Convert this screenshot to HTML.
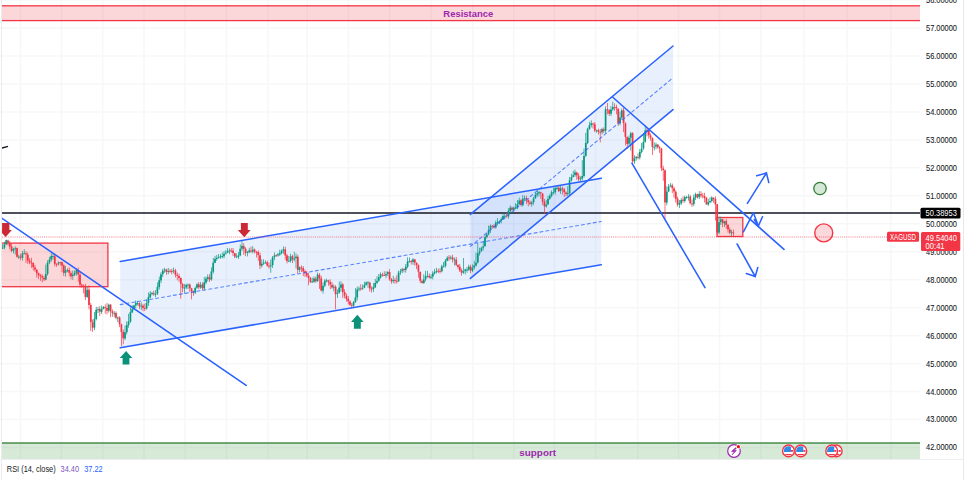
<!DOCTYPE html>
<html><head><meta charset="utf-8"><style>
html,body{margin:0;padding:0;background:#fff;width:970px;height:480px;overflow:hidden}
svg{display:block}
text{font-family:"Liberation Sans",sans-serif}
</style></head><body>
<svg width="970" height="480" viewBox="0 0 970 480">
<rect width="970" height="480" fill="#fff"/>
<g stroke="#f7f7f8" stroke-width="1.5">
<line x1="20.5" y1="0" x2="20.5" y2="459" />
<line x1="61.4" y1="0" x2="61.4" y2="459" />
<line x1="102.7" y1="0" x2="102.7" y2="459" />
<line x1="144" y1="0" x2="144" y2="459" />
<line x1="185.1" y1="0" x2="185.1" y2="459" />
<line x1="226.5" y1="0" x2="226.5" y2="459" />
<line x1="268" y1="0" x2="268" y2="459" />
<line x1="307.3" y1="0" x2="307.3" y2="459" />
<line x1="348.4" y1="0" x2="348.4" y2="459" />
<line x1="389.5" y1="0" x2="389.5" y2="459" />
<line x1="431.3" y1="0" x2="431.3" y2="459" />
<line x1="472.7" y1="0" x2="472.7" y2="459" />
<line x1="513.7" y1="0" x2="513.7" y2="459" />
<line x1="554.5" y1="0" x2="554.5" y2="459" />
<line x1="595.6" y1="0" x2="595.6" y2="459" />
<line x1="637.7" y1="0" x2="637.7" y2="459" />
<line x1="678.5" y1="0" x2="678.5" y2="459" />
<line x1="719.5" y1="0" x2="719.5" y2="459" />
<line x1="760.7" y1="0" x2="760.7" y2="459" />
<line x1="803.9" y1="0" x2="803.9" y2="459" />
<line x1="847" y1="0" x2="847" y2="459" />
<line x1="890.8" y1="0" x2="890.8" y2="459" />
<line x1="0" y1="0.03" x2="920" y2="0.03" />
<line x1="0" y1="28.00" x2="920" y2="28.00" />
<line x1="0" y1="55.97" x2="920" y2="55.97" />
<line x1="0" y1="83.94" x2="920" y2="83.94" />
<line x1="0" y1="111.91" x2="920" y2="111.91" />
<line x1="0" y1="139.88" x2="920" y2="139.88" />
<line x1="0" y1="167.85" x2="920" y2="167.85" />
<line x1="0" y1="195.82" x2="920" y2="195.82" />
<line x1="0" y1="223.79" x2="920" y2="223.79" />
<line x1="0" y1="251.76" x2="920" y2="251.76" />
<line x1="0" y1="279.73" x2="920" y2="279.73" />
<line x1="0" y1="307.70" x2="920" y2="307.70" />
<line x1="0" y1="335.67" x2="920" y2="335.67" />
<line x1="0" y1="363.64" x2="920" y2="363.64" />
<line x1="0" y1="391.61" x2="920" y2="391.61" />
<line x1="0" y1="419.58" x2="920" y2="419.58" />
<line x1="0" y1="447.55" x2="920" y2="447.55" />
</g>
<line x1="1.5" y1="0" x2="1.5" y2="480" stroke="#ebebeb" stroke-width="1"/>
<line x1="963.5" y1="0" x2="963.5" y2="480" stroke="#e6e8ec" stroke-width="1"/>
<line x1="0" y1="459.5" x2="963" y2="459.5" stroke="#eceef1" stroke-width="1"/>
<defs><clipPath id="cp"><rect x="2" y="0" width="918" height="459"/></clipPath></defs>
<g clip-path="url(#cp)">
<!-- resistance -->
<rect x="-10" y="5.8" width="940" height="14.8" fill="#f23645" fill-opacity="0.2" stroke="#f23645" stroke-width="1.3"/>
<!-- support -->
<rect x="-10" y="443" width="940" height="30" fill="#38963c" fill-opacity="0.2" stroke="#2e7d32" stroke-width="1.3"/>
<!-- big channel fill -->
<polygon points="120.2,261.4 601.3,178.2 601.3,264.7 120.2,347.8" fill="#2369eb" fill-opacity="0.1"/>
<polygon points="470.4,214.4 673,46 673,109.6 470.4,278.4" fill="#2369eb" fill-opacity="0.1"/>
<!-- left red box -->
<rect x="-10" y="243.1" width="117.9" height="43.6" fill="#f23645" fill-opacity="0.2" stroke="#f23645" stroke-width="1.3"/>
<!-- right red box -->
<rect x="717" y="217.5" width="25.8" height="19" fill="#f23645" fill-opacity="0.2" stroke="#f23645" stroke-width="1.3"/>
<!-- black line -->
<line x1="2" y1="212.9" x2="920" y2="212.9" stroke="#131722" stroke-width="1.5"/>
<!-- candles -->
<g>
<rect x="1.73" y="247.71" width="1.75" height="0.90" fill="#089981"/>
<rect x="2.25" y="244.18" width="0.7" height="4.91" fill="#089981"/>
<rect x="3.53" y="244.39" width="1.75" height="3.25" fill="#089981"/>
<rect x="4.05" y="241.72" width="0.7" height="7.64" fill="#089981"/>
<rect x="5.33" y="240.25" width="1.75" height="4.10" fill="#089981"/>
<rect x="5.85" y="239.66" width="0.7" height="5.32" fill="#089981"/>
<rect x="7.12" y="240.44" width="1.75" height="2.24" fill="#f23645"/>
<rect x="7.65" y="239.72" width="0.7" height="5.84" fill="#f23645"/>
<rect x="8.93" y="242.95" width="1.75" height="3.69" fill="#f23645"/>
<rect x="9.45" y="241.05" width="0.7" height="8.22" fill="#f23645"/>
<rect x="10.73" y="246.37" width="1.75" height="4.57" fill="#f23645"/>
<rect x="11.25" y="243.74" width="0.7" height="8.42" fill="#f23645"/>
<rect x="12.53" y="248.96" width="1.75" height="1.75" fill="#089981"/>
<rect x="13.05" y="247.76" width="0.7" height="5.76" fill="#089981"/>
<rect x="14.33" y="248.33" width="1.75" height="0.90" fill="#089981"/>
<rect x="14.85" y="246.27" width="0.7" height="8.29" fill="#089981"/>
<rect x="16.13" y="248.07" width="1.75" height="8.65" fill="#f23645"/>
<rect x="16.65" y="247.51" width="0.7" height="10.14" fill="#f23645"/>
<rect x="17.93" y="256.63" width="1.75" height="0.90" fill="#089981"/>
<rect x="18.45" y="254.78" width="0.7" height="4.17" fill="#089981"/>
<rect x="19.73" y="256.51" width="1.75" height="1.34" fill="#f23645"/>
<rect x="20.25" y="253.70" width="0.7" height="6.52" fill="#f23645"/>
<rect x="21.53" y="253.51" width="1.75" height="4.39" fill="#089981"/>
<rect x="22.05" y="251.06" width="0.7" height="9.51" fill="#089981"/>
<rect x="23.33" y="253.24" width="1.75" height="0.90" fill="#089981"/>
<rect x="23.85" y="249.23" width="0.7" height="4.86" fill="#089981"/>
<rect x="25.13" y="253.39" width="1.75" height="1.20" fill="#f23645"/>
<rect x="25.65" y="251.20" width="0.7" height="11.75" fill="#f23645"/>
<rect x="26.93" y="254.70" width="1.75" height="5.83" fill="#f23645"/>
<rect x="27.45" y="252.31" width="0.7" height="11.58" fill="#f23645"/>
<rect x="28.73" y="260.41" width="1.75" height="1.95" fill="#f23645"/>
<rect x="29.25" y="258.21" width="0.7" height="6.10" fill="#f23645"/>
<rect x="30.53" y="262.34" width="1.75" height="0.90" fill="#f23645"/>
<rect x="31.05" y="257.82" width="0.7" height="10.12" fill="#f23645"/>
<rect x="32.33" y="262.95" width="1.75" height="4.17" fill="#f23645"/>
<rect x="32.85" y="262.40" width="0.7" height="7.99" fill="#f23645"/>
<rect x="34.13" y="267.42" width="1.75" height="2.16" fill="#f23645"/>
<rect x="34.65" y="264.89" width="0.7" height="6.99" fill="#f23645"/>
<rect x="35.93" y="269.69" width="1.75" height="3.64" fill="#f23645"/>
<rect x="36.45" y="269.23" width="0.7" height="8.45" fill="#f23645"/>
<rect x="37.73" y="273.10" width="1.75" height="2.28" fill="#f23645"/>
<rect x="38.25" y="272.55" width="0.7" height="6.65" fill="#f23645"/>
<rect x="39.52" y="275.23" width="1.75" height="0.95" fill="#f23645"/>
<rect x="40.05" y="273.81" width="0.7" height="7.05" fill="#f23645"/>
<rect x="41.32" y="276.15" width="1.75" height="1.52" fill="#f23645"/>
<rect x="41.85" y="274.32" width="0.7" height="8.13" fill="#f23645"/>
<rect x="43.12" y="277.89" width="1.75" height="1.44" fill="#f23645"/>
<rect x="43.65" y="275.89" width="0.7" height="5.20" fill="#f23645"/>
<rect x="44.92" y="274.01" width="1.75" height="5.55" fill="#089981"/>
<rect x="45.45" y="264.65" width="0.7" height="15.70" fill="#089981"/>
<rect x="46.72" y="262.78" width="1.75" height="11.07" fill="#089981"/>
<rect x="47.25" y="260.34" width="0.7" height="15.17" fill="#089981"/>
<rect x="48.52" y="259.60" width="1.75" height="3.04" fill="#089981"/>
<rect x="49.05" y="256.87" width="0.7" height="7.26" fill="#089981"/>
<rect x="50.32" y="256.04" width="1.75" height="3.60" fill="#089981"/>
<rect x="50.85" y="253.16" width="0.7" height="8.67" fill="#089981"/>
<rect x="52.12" y="256.07" width="1.75" height="0.90" fill="#089981"/>
<rect x="52.65" y="253.84" width="0.7" height="5.86" fill="#089981"/>
<rect x="53.92" y="256.24" width="1.75" height="7.75" fill="#f23645"/>
<rect x="54.45" y="253.57" width="0.7" height="12.90" fill="#f23645"/>
<rect x="55.72" y="263.93" width="1.75" height="0.90" fill="#f23645"/>
<rect x="56.25" y="263.18" width="0.7" height="3.62" fill="#f23645"/>
<rect x="57.52" y="262.45" width="1.75" height="1.25" fill="#089981"/>
<rect x="58.05" y="261.51" width="0.7" height="4.07" fill="#089981"/>
<rect x="59.32" y="262.18" width="1.75" height="0.90" fill="#f23645"/>
<rect x="59.85" y="261.78" width="0.7" height="3.79" fill="#f23645"/>
<rect x="61.12" y="262.12" width="1.75" height="3.46" fill="#f23645"/>
<rect x="61.65" y="261.65" width="0.7" height="10.44" fill="#f23645"/>
<rect x="62.92" y="265.36" width="1.75" height="7.62" fill="#f23645"/>
<rect x="63.45" y="264.31" width="0.7" height="11.75" fill="#f23645"/>
<rect x="64.72" y="270.26" width="1.75" height="2.50" fill="#089981"/>
<rect x="65.25" y="265.89" width="0.7" height="10.83" fill="#089981"/>
<rect x="66.52" y="270.12" width="1.75" height="0.90" fill="#089981"/>
<rect x="67.05" y="268.25" width="0.7" height="3.99" fill="#089981"/>
<rect x="68.32" y="269.98" width="1.75" height="2.90" fill="#f23645"/>
<rect x="68.85" y="267.42" width="0.7" height="9.02" fill="#f23645"/>
<rect x="70.12" y="273.14" width="1.75" height="3.21" fill="#f23645"/>
<rect x="70.65" y="271.37" width="0.7" height="7.91" fill="#f23645"/>
<rect x="71.92" y="274.76" width="1.75" height="1.30" fill="#089981"/>
<rect x="72.45" y="270.60" width="0.7" height="9.22" fill="#089981"/>
<rect x="73.72" y="272.99" width="1.75" height="1.89" fill="#089981"/>
<rect x="74.25" y="270.30" width="0.7" height="5.94" fill="#089981"/>
<rect x="75.52" y="270.23" width="1.75" height="2.92" fill="#089981"/>
<rect x="76.05" y="268.45" width="0.7" height="7.13" fill="#089981"/>
<rect x="77.32" y="270.07" width="1.75" height="4.29" fill="#f23645"/>
<rect x="77.85" y="267.56" width="0.7" height="14.24" fill="#f23645"/>
<rect x="79.12" y="274.54" width="1.75" height="10.16" fill="#f23645"/>
<rect x="79.65" y="272.01" width="0.7" height="15.40" fill="#f23645"/>
<rect x="80.92" y="284.71" width="1.75" height="1.01" fill="#f23645"/>
<rect x="81.45" y="283.39" width="0.7" height="4.55" fill="#f23645"/>
<rect x="82.72" y="285.59" width="1.75" height="1.21" fill="#f23645"/>
<rect x="83.25" y="284.52" width="0.7" height="8.81" fill="#f23645"/>
<rect x="84.52" y="286.78" width="1.75" height="10.20" fill="#f23645"/>
<rect x="85.05" y="283.94" width="0.7" height="16.00" fill="#f23645"/>
<rect x="86.32" y="289.88" width="1.75" height="7.02" fill="#089981"/>
<rect x="86.85" y="286.61" width="0.7" height="11.28" fill="#089981"/>
<rect x="88.12" y="289.70" width="1.75" height="15.33" fill="#f23645"/>
<rect x="88.65" y="285.28" width="0.7" height="24.03" fill="#f23645"/>
<rect x="89.92" y="305.02" width="1.75" height="17.07" fill="#f23645"/>
<rect x="90.45" y="302.92" width="0.7" height="28.03" fill="#f23645"/>
<rect x="91.72" y="322.19" width="1.75" height="5.49" fill="#f23645"/>
<rect x="92.25" y="319.42" width="0.7" height="12.38" fill="#f23645"/>
<rect x="93.52" y="318.80" width="1.75" height="8.86" fill="#089981"/>
<rect x="94.05" y="312.01" width="0.7" height="18.10" fill="#089981"/>
<rect x="95.32" y="309.75" width="1.75" height="9.24" fill="#089981"/>
<rect x="95.85" y="306.78" width="0.7" height="13.63" fill="#089981"/>
<rect x="97.12" y="309.19" width="1.75" height="0.90" fill="#089981"/>
<rect x="97.65" y="306.91" width="0.7" height="6.21" fill="#089981"/>
<rect x="98.92" y="308.98" width="1.75" height="2.62" fill="#f23645"/>
<rect x="99.45" y="306.23" width="0.7" height="9.77" fill="#f23645"/>
<rect x="100.72" y="308.92" width="1.75" height="2.88" fill="#089981"/>
<rect x="101.25" y="305.59" width="0.7" height="8.32" fill="#089981"/>
<rect x="102.52" y="306.95" width="1.75" height="2.00" fill="#089981"/>
<rect x="103.05" y="306.07" width="0.7" height="3.32" fill="#089981"/>
<rect x="104.32" y="307.04" width="1.75" height="0.90" fill="#f23645"/>
<rect x="104.85" y="304.43" width="0.7" height="9.29" fill="#f23645"/>
<rect x="106.12" y="307.93" width="1.75" height="2.87" fill="#f23645"/>
<rect x="106.65" y="302.87" width="0.7" height="11.58" fill="#f23645"/>
<rect x="107.92" y="304.75" width="1.75" height="5.93" fill="#089981"/>
<rect x="108.45" y="303.73" width="0.7" height="8.88" fill="#089981"/>
<rect x="109.72" y="304.70" width="1.75" height="6.67" fill="#f23645"/>
<rect x="110.25" y="303.96" width="0.7" height="13.10" fill="#f23645"/>
<rect x="111.52" y="311.34" width="1.75" height="1.76" fill="#f23645"/>
<rect x="112.05" y="309.43" width="0.7" height="7.36" fill="#f23645"/>
<rect x="113.32" y="313.24" width="1.75" height="0.90" fill="#089981"/>
<rect x="113.85" y="311.10" width="0.7" height="6.27" fill="#089981"/>
<rect x="115.12" y="312.95" width="1.75" height="4.79" fill="#f23645"/>
<rect x="115.65" y="311.41" width="0.7" height="7.91" fill="#f23645"/>
<rect x="116.92" y="317.47" width="1.75" height="0.90" fill="#089981"/>
<rect x="117.45" y="316.62" width="0.7" height="5.64" fill="#089981"/>
<rect x="118.72" y="317.51" width="1.75" height="6.61" fill="#f23645"/>
<rect x="119.25" y="316.26" width="0.7" height="10.79" fill="#f23645"/>
<rect x="120.52" y="324.28" width="1.75" height="7.59" fill="#f23645"/>
<rect x="121.05" y="323.61" width="0.7" height="22.45" fill="#f23645"/>
<rect x="122.32" y="331.74" width="1.75" height="6.54" fill="#f23645"/>
<rect x="122.85" y="329.34" width="0.7" height="15.01" fill="#f23645"/>
<rect x="124.12" y="332.17" width="1.75" height="6.27" fill="#089981"/>
<rect x="124.65" y="325.56" width="0.7" height="14.43" fill="#089981"/>
<rect x="125.92" y="324.90" width="1.75" height="7.27" fill="#089981"/>
<rect x="126.45" y="321.32" width="0.7" height="13.06" fill="#089981"/>
<rect x="127.72" y="321.46" width="1.75" height="3.46" fill="#089981"/>
<rect x="128.25" y="313.79" width="0.7" height="13.98" fill="#089981"/>
<rect x="129.52" y="312.10" width="1.75" height="9.58" fill="#089981"/>
<rect x="130.05" y="307.42" width="0.7" height="15.34" fill="#089981"/>
<rect x="131.32" y="309.25" width="1.75" height="3.12" fill="#089981"/>
<rect x="131.85" y="305.25" width="0.7" height="7.87" fill="#089981"/>
<rect x="133.12" y="305.40" width="1.75" height="3.82" fill="#089981"/>
<rect x="133.65" y="304.81" width="0.7" height="5.44" fill="#089981"/>
<rect x="134.92" y="302.86" width="1.75" height="2.64" fill="#089981"/>
<rect x="135.45" y="300.42" width="0.7" height="7.81" fill="#089981"/>
<rect x="136.72" y="302.94" width="1.75" height="0.90" fill="#089981"/>
<rect x="137.25" y="300.83" width="0.7" height="4.61" fill="#089981"/>
<rect x="138.52" y="303.22" width="1.75" height="3.02" fill="#f23645"/>
<rect x="139.05" y="302.25" width="0.7" height="6.87" fill="#f23645"/>
<rect x="140.32" y="305.68" width="1.75" height="0.90" fill="#089981"/>
<rect x="140.85" y="302.34" width="0.7" height="7.75" fill="#089981"/>
<rect x="142.12" y="305.64" width="1.75" height="2.31" fill="#f23645"/>
<rect x="142.65" y="303.90" width="0.7" height="7.38" fill="#f23645"/>
<rect x="143.92" y="307.84" width="1.75" height="0.90" fill="#f23645"/>
<rect x="144.45" y="303.68" width="0.7" height="7.37" fill="#f23645"/>
<rect x="145.72" y="302.98" width="1.75" height="5.45" fill="#089981"/>
<rect x="146.25" y="299.38" width="0.7" height="10.32" fill="#089981"/>
<rect x="147.53" y="297.07" width="1.75" height="5.92" fill="#089981"/>
<rect x="148.05" y="292.38" width="0.7" height="13.57" fill="#089981"/>
<rect x="149.33" y="293.78" width="1.75" height="3.57" fill="#089981"/>
<rect x="149.85" y="291.03" width="0.7" height="7.41" fill="#089981"/>
<rect x="151.13" y="292.98" width="1.75" height="0.97" fill="#089981"/>
<rect x="151.65" y="291.87" width="0.7" height="3.46" fill="#089981"/>
<rect x="152.93" y="293.22" width="1.75" height="1.04" fill="#f23645"/>
<rect x="153.45" y="290.69" width="0.7" height="5.11" fill="#f23645"/>
<rect x="154.73" y="293.83" width="1.75" height="0.90" fill="#089981"/>
<rect x="155.25" y="290.13" width="0.7" height="7.10" fill="#089981"/>
<rect x="156.53" y="286.85" width="1.75" height="6.71" fill="#089981"/>
<rect x="157.05" y="282.42" width="0.7" height="12.65" fill="#089981"/>
<rect x="158.33" y="280.25" width="1.75" height="6.86" fill="#089981"/>
<rect x="158.85" y="276.58" width="0.7" height="13.01" fill="#089981"/>
<rect x="160.13" y="274.31" width="1.75" height="6.15" fill="#089981"/>
<rect x="160.65" y="272.09" width="0.7" height="11.02" fill="#089981"/>
<rect x="161.93" y="270.72" width="1.75" height="3.49" fill="#089981"/>
<rect x="162.45" y="268.75" width="0.7" height="8.28" fill="#089981"/>
<rect x="163.73" y="269.56" width="1.75" height="0.95" fill="#089981"/>
<rect x="164.25" y="267.79" width="0.7" height="5.01" fill="#089981"/>
<rect x="165.53" y="269.35" width="1.75" height="2.64" fill="#f23645"/>
<rect x="166.05" y="268.82" width="0.7" height="6.00" fill="#f23645"/>
<rect x="167.33" y="271.01" width="1.75" height="0.90" fill="#089981"/>
<rect x="167.85" y="267.93" width="0.7" height="6.31" fill="#089981"/>
<rect x="169.13" y="270.81" width="1.75" height="0.90" fill="#f23645"/>
<rect x="169.65" y="269.10" width="0.7" height="3.64" fill="#f23645"/>
<rect x="170.93" y="271.06" width="1.75" height="0.90" fill="#f23645"/>
<rect x="171.45" y="268.75" width="0.7" height="5.58" fill="#f23645"/>
<rect x="172.73" y="270.40" width="1.75" height="0.90" fill="#089981"/>
<rect x="173.25" y="267.57" width="0.7" height="5.69" fill="#089981"/>
<rect x="174.53" y="270.36" width="1.75" height="4.43" fill="#f23645"/>
<rect x="175.05" y="268.67" width="0.7" height="8.85" fill="#f23645"/>
<rect x="176.33" y="274.79" width="1.75" height="1.01" fill="#f23645"/>
<rect x="176.85" y="272.60" width="0.7" height="7.68" fill="#f23645"/>
<rect x="178.13" y="276.00" width="1.75" height="2.01" fill="#f23645"/>
<rect x="178.65" y="273.76" width="0.7" height="7.99" fill="#f23645"/>
<rect x="179.93" y="277.92" width="1.75" height="5.86" fill="#f23645"/>
<rect x="180.45" y="277.38" width="0.7" height="21.32" fill="#f23645"/>
<rect x="181.73" y="283.92" width="1.75" height="4.22" fill="#f23645"/>
<rect x="182.25" y="282.86" width="0.7" height="9.37" fill="#f23645"/>
<rect x="183.53" y="287.70" width="1.75" height="0.90" fill="#089981"/>
<rect x="184.05" y="283.99" width="0.7" height="9.55" fill="#089981"/>
<rect x="185.33" y="284.90" width="1.75" height="2.64" fill="#089981"/>
<rect x="185.85" y="283.74" width="0.7" height="5.40" fill="#089981"/>
<rect x="187.13" y="284.57" width="1.75" height="0.90" fill="#089981"/>
<rect x="187.65" y="283.48" width="0.7" height="5.65" fill="#089981"/>
<rect x="188.93" y="284.60" width="1.75" height="3.73" fill="#f23645"/>
<rect x="189.45" y="283.56" width="0.7" height="8.34" fill="#f23645"/>
<rect x="190.73" y="288.24" width="1.75" height="3.13" fill="#f23645"/>
<rect x="191.25" y="287.83" width="0.7" height="11.57" fill="#f23645"/>
<rect x="192.53" y="291.37" width="1.75" height="1.40" fill="#f23645"/>
<rect x="193.05" y="290.45" width="0.7" height="5.30" fill="#f23645"/>
<rect x="194.33" y="287.97" width="1.75" height="4.66" fill="#089981"/>
<rect x="194.85" y="286.55" width="0.7" height="7.52" fill="#089981"/>
<rect x="196.13" y="284.33" width="1.75" height="3.35" fill="#089981"/>
<rect x="196.65" y="283.14" width="0.7" height="5.55" fill="#089981"/>
<rect x="197.93" y="284.35" width="1.75" height="2.92" fill="#f23645"/>
<rect x="198.45" y="282.00" width="0.7" height="7.38" fill="#f23645"/>
<rect x="199.73" y="284.75" width="1.75" height="2.76" fill="#089981"/>
<rect x="200.25" y="281.99" width="0.7" height="6.76" fill="#089981"/>
<rect x="201.53" y="284.54" width="1.75" height="3.66" fill="#f23645"/>
<rect x="202.05" y="282.25" width="0.7" height="8.32" fill="#f23645"/>
<rect x="203.33" y="282.40" width="1.75" height="5.99" fill="#089981"/>
<rect x="203.85" y="276.97" width="0.7" height="13.46" fill="#089981"/>
<rect x="205.13" y="278.64" width="1.75" height="3.95" fill="#089981"/>
<rect x="205.65" y="276.52" width="0.7" height="7.84" fill="#089981"/>
<rect x="206.93" y="277.08" width="1.75" height="1.76" fill="#089981"/>
<rect x="207.45" y="274.31" width="0.7" height="7.08" fill="#089981"/>
<rect x="208.73" y="277.31" width="1.75" height="2.39" fill="#f23645"/>
<rect x="209.25" y="274.28" width="0.7" height="7.63" fill="#f23645"/>
<rect x="210.53" y="271.42" width="1.75" height="8.01" fill="#089981"/>
<rect x="211.05" y="267.36" width="0.7" height="13.40" fill="#089981"/>
<rect x="212.33" y="262.67" width="1.75" height="8.95" fill="#089981"/>
<rect x="212.85" y="257.91" width="0.7" height="15.74" fill="#089981"/>
<rect x="214.13" y="258.87" width="1.75" height="3.91" fill="#089981"/>
<rect x="214.65" y="255.85" width="0.7" height="7.34" fill="#089981"/>
<rect x="215.93" y="257.89" width="1.75" height="1.12" fill="#089981"/>
<rect x="216.45" y="254.95" width="0.7" height="5.86" fill="#089981"/>
<rect x="217.73" y="256.98" width="1.75" height="0.90" fill="#089981"/>
<rect x="218.25" y="254.08" width="0.7" height="4.60" fill="#089981"/>
<rect x="219.53" y="256.33" width="1.75" height="0.90" fill="#089981"/>
<rect x="220.05" y="254.04" width="0.7" height="4.80" fill="#089981"/>
<rect x="221.33" y="256.14" width="1.75" height="0.90" fill="#089981"/>
<rect x="221.85" y="252.45" width="0.7" height="5.83" fill="#089981"/>
<rect x="223.13" y="253.78" width="1.75" height="2.47" fill="#089981"/>
<rect x="223.65" y="251.17" width="0.7" height="7.09" fill="#089981"/>
<rect x="224.93" y="252.81" width="1.75" height="0.90" fill="#089981"/>
<rect x="225.45" y="250.10" width="0.7" height="4.53" fill="#089981"/>
<rect x="226.73" y="250.96" width="1.75" height="1.73" fill="#089981"/>
<rect x="227.25" y="248.02" width="0.7" height="5.10" fill="#089981"/>
<rect x="228.53" y="250.50" width="1.75" height="0.90" fill="#089981"/>
<rect x="229.05" y="248.35" width="0.7" height="5.85" fill="#089981"/>
<rect x="230.33" y="250.37" width="1.75" height="0.90" fill="#f23645"/>
<rect x="230.85" y="248.16" width="0.7" height="4.69" fill="#f23645"/>
<rect x="232.13" y="250.71" width="1.75" height="2.24" fill="#f23645"/>
<rect x="232.65" y="247.99" width="0.7" height="7.93" fill="#f23645"/>
<rect x="233.93" y="253.21" width="1.75" height="3.32" fill="#f23645"/>
<rect x="234.45" y="252.77" width="0.7" height="5.36" fill="#f23645"/>
<rect x="235.73" y="256.60" width="1.75" height="0.90" fill="#089981"/>
<rect x="236.25" y="253.43" width="0.7" height="4.48" fill="#089981"/>
<rect x="237.53" y="255.44" width="1.75" height="1.42" fill="#089981"/>
<rect x="238.05" y="252.15" width="0.7" height="6.86" fill="#089981"/>
<rect x="239.33" y="248.68" width="1.75" height="6.78" fill="#089981"/>
<rect x="239.85" y="244.38" width="0.7" height="11.83" fill="#089981"/>
<rect x="241.13" y="245.91" width="1.75" height="2.78" fill="#089981"/>
<rect x="241.65" y="240.59" width="0.7" height="10.32" fill="#089981"/>
<rect x="242.93" y="246.15" width="1.75" height="2.68" fill="#f23645"/>
<rect x="243.45" y="243.23" width="0.7" height="11.70" fill="#f23645"/>
<rect x="244.73" y="248.82" width="1.75" height="4.05" fill="#f23645"/>
<rect x="245.25" y="247.25" width="0.7" height="8.94" fill="#f23645"/>
<rect x="246.53" y="252.08" width="1.75" height="0.90" fill="#089981"/>
<rect x="247.05" y="250.86" width="0.7" height="5.57" fill="#089981"/>
<rect x="248.33" y="250.41" width="1.75" height="1.82" fill="#089981"/>
<rect x="248.85" y="247.82" width="0.7" height="5.50" fill="#089981"/>
<rect x="250.13" y="250.53" width="1.75" height="1.03" fill="#f23645"/>
<rect x="250.65" y="246.56" width="0.7" height="6.16" fill="#f23645"/>
<rect x="251.93" y="249.61" width="1.75" height="1.89" fill="#089981"/>
<rect x="252.45" y="246.10" width="0.7" height="7.33" fill="#089981"/>
<rect x="253.73" y="249.57" width="1.75" height="2.20" fill="#f23645"/>
<rect x="254.25" y="248.46" width="0.7" height="4.93" fill="#f23645"/>
<rect x="255.53" y="251.97" width="1.75" height="0.90" fill="#f23645"/>
<rect x="256.05" y="250.83" width="0.7" height="6.69" fill="#f23645"/>
<rect x="257.33" y="252.08" width="1.75" height="2.99" fill="#f23645"/>
<rect x="257.85" y="250.36" width="0.7" height="10.34" fill="#f23645"/>
<rect x="259.13" y="255.34" width="1.75" height="10.17" fill="#f23645"/>
<rect x="259.65" y="252.65" width="0.7" height="16.47" fill="#f23645"/>
<rect x="260.93" y="263.62" width="1.75" height="2.14" fill="#089981"/>
<rect x="261.45" y="259.26" width="0.7" height="8.33" fill="#089981"/>
<rect x="262.73" y="262.59" width="1.75" height="0.90" fill="#089981"/>
<rect x="263.25" y="259.36" width="0.7" height="5.56" fill="#089981"/>
<rect x="264.53" y="262.57" width="1.75" height="0.90" fill="#089981"/>
<rect x="265.05" y="260.36" width="0.7" height="3.12" fill="#089981"/>
<rect x="266.33" y="262.35" width="1.75" height="3.15" fill="#f23645"/>
<rect x="266.85" y="260.72" width="0.7" height="6.07" fill="#f23645"/>
<rect x="268.13" y="265.65" width="1.75" height="0.90" fill="#f23645"/>
<rect x="268.65" y="262.32" width="0.7" height="6.21" fill="#f23645"/>
<rect x="269.93" y="265.43" width="1.75" height="0.90" fill="#089981"/>
<rect x="270.45" y="259.52" width="0.7" height="13.28" fill="#089981"/>
<rect x="271.73" y="257.43" width="1.75" height="7.80" fill="#089981"/>
<rect x="272.25" y="256.04" width="0.7" height="11.94" fill="#089981"/>
<rect x="273.53" y="255.46" width="1.75" height="1.80" fill="#089981"/>
<rect x="274.05" y="252.54" width="0.7" height="7.71" fill="#089981"/>
<rect x="275.33" y="255.24" width="1.75" height="0.90" fill="#f23645"/>
<rect x="275.85" y="254.34" width="0.7" height="2.29" fill="#f23645"/>
<rect x="277.13" y="254.25" width="1.75" height="1.18" fill="#089981"/>
<rect x="277.65" y="252.88" width="0.7" height="3.81" fill="#089981"/>
<rect x="278.93" y="253.18" width="1.75" height="1.31" fill="#089981"/>
<rect x="279.45" y="249.67" width="0.7" height="6.29" fill="#089981"/>
<rect x="280.73" y="251.02" width="1.75" height="2.18" fill="#089981"/>
<rect x="281.25" y="249.30" width="0.7" height="5.18" fill="#089981"/>
<rect x="282.53" y="249.33" width="1.75" height="1.56" fill="#089981"/>
<rect x="283.05" y="246.41" width="0.7" height="7.42" fill="#089981"/>
<rect x="284.33" y="249.40" width="1.75" height="6.08" fill="#f23645"/>
<rect x="284.85" y="246.76" width="0.7" height="12.95" fill="#f23645"/>
<rect x="286.13" y="255.33" width="1.75" height="5.70" fill="#f23645"/>
<rect x="286.65" y="253.89" width="0.7" height="9.57" fill="#f23645"/>
<rect x="287.93" y="260.85" width="1.75" height="0.90" fill="#089981"/>
<rect x="288.45" y="255.90" width="0.7" height="5.80" fill="#089981"/>
<rect x="289.73" y="256.43" width="1.75" height="4.54" fill="#089981"/>
<rect x="290.25" y="253.70" width="0.7" height="8.90" fill="#089981"/>
<rect x="291.53" y="256.13" width="1.75" height="3.23" fill="#f23645"/>
<rect x="292.05" y="254.71" width="0.7" height="8.36" fill="#f23645"/>
<rect x="293.33" y="258.35" width="1.75" height="1.23" fill="#089981"/>
<rect x="293.85" y="251.67" width="0.7" height="9.77" fill="#089981"/>
<rect x="295.13" y="256.58" width="1.75" height="1.57" fill="#089981"/>
<rect x="295.65" y="253.43" width="0.7" height="15.03" fill="#089981"/>
<rect x="296.93" y="256.71" width="1.75" height="13.20" fill="#f23645"/>
<rect x="297.45" y="254.63" width="0.7" height="18.87" fill="#f23645"/>
<rect x="298.73" y="267.16" width="1.75" height="2.78" fill="#089981"/>
<rect x="299.25" y="266.50" width="0.7" height="5.88" fill="#089981"/>
<rect x="300.53" y="267.42" width="1.75" height="0.90" fill="#f23645"/>
<rect x="301.05" y="265.34" width="0.7" height="6.69" fill="#f23645"/>
<rect x="302.33" y="268.10" width="1.75" height="3.40" fill="#f23645"/>
<rect x="302.85" y="266.04" width="0.7" height="10.02" fill="#f23645"/>
<rect x="304.13" y="271.23" width="1.75" height="1.98" fill="#f23645"/>
<rect x="304.65" y="269.47" width="0.7" height="7.55" fill="#f23645"/>
<rect x="305.93" y="273.05" width="1.75" height="2.59" fill="#f23645"/>
<rect x="306.45" y="271.08" width="0.7" height="6.24" fill="#f23645"/>
<rect x="307.73" y="275.62" width="1.75" height="2.39" fill="#f23645"/>
<rect x="308.25" y="272.73" width="0.7" height="12.47" fill="#f23645"/>
<rect x="309.53" y="277.99" width="1.75" height="4.04" fill="#f23645"/>
<rect x="310.05" y="276.98" width="0.7" height="6.09" fill="#f23645"/>
<rect x="311.33" y="281.58" width="1.75" height="0.90" fill="#089981"/>
<rect x="311.85" y="277.67" width="0.7" height="4.94" fill="#089981"/>
<rect x="313.13" y="278.48" width="1.75" height="3.21" fill="#089981"/>
<rect x="313.65" y="276.41" width="0.7" height="6.35" fill="#089981"/>
<rect x="314.93" y="278.74" width="1.75" height="2.44" fill="#f23645"/>
<rect x="315.45" y="276.66" width="0.7" height="6.12" fill="#f23645"/>
<rect x="316.73" y="274.61" width="1.75" height="6.52" fill="#089981"/>
<rect x="317.25" y="272.44" width="0.7" height="9.60" fill="#089981"/>
<rect x="318.53" y="274.76" width="1.75" height="3.70" fill="#f23645"/>
<rect x="319.05" y="273.04" width="0.7" height="15.82" fill="#f23645"/>
<rect x="320.33" y="278.34" width="1.75" height="12.22" fill="#f23645"/>
<rect x="320.85" y="275.81" width="0.7" height="15.75" fill="#f23645"/>
<rect x="322.13" y="285.88" width="1.75" height="4.83" fill="#089981"/>
<rect x="322.65" y="282.62" width="0.7" height="10.97" fill="#089981"/>
<rect x="323.93" y="280.79" width="1.75" height="4.91" fill="#089981"/>
<rect x="324.45" y="279.25" width="0.7" height="7.93" fill="#089981"/>
<rect x="325.73" y="280.18" width="1.75" height="0.90" fill="#089981"/>
<rect x="326.25" y="278.62" width="0.7" height="3.86" fill="#089981"/>
<rect x="327.53" y="280.47" width="1.75" height="1.70" fill="#f23645"/>
<rect x="328.05" y="279.70" width="0.7" height="6.11" fill="#f23645"/>
<rect x="329.33" y="282.11" width="1.75" height="2.40" fill="#f23645"/>
<rect x="329.85" y="279.37" width="0.7" height="9.88" fill="#f23645"/>
<rect x="331.13" y="284.81" width="1.75" height="2.64" fill="#f23645"/>
<rect x="331.65" y="281.98" width="0.7" height="6.72" fill="#f23645"/>
<rect x="332.93" y="286.69" width="1.75" height="1.02" fill="#089981"/>
<rect x="333.45" y="284.35" width="0.7" height="6.82" fill="#089981"/>
<rect x="334.73" y="286.62" width="1.75" height="7.58" fill="#f23645"/>
<rect x="335.25" y="285.24" width="0.7" height="24.06" fill="#f23645"/>
<rect x="336.53" y="292.91" width="1.75" height="0.99" fill="#089981"/>
<rect x="337.05" y="289.43" width="0.7" height="8.49" fill="#089981"/>
<rect x="338.33" y="287.63" width="1.75" height="5.05" fill="#089981"/>
<rect x="338.85" y="281.54" width="0.7" height="12.08" fill="#089981"/>
<rect x="340.13" y="284.41" width="1.75" height="3.41" fill="#089981"/>
<rect x="340.65" y="281.16" width="0.7" height="10.51" fill="#089981"/>
<rect x="341.93" y="284.40" width="1.75" height="7.69" fill="#f23645"/>
<rect x="342.45" y="283.03" width="0.7" height="15.16" fill="#f23645"/>
<rect x="343.73" y="292.01" width="1.75" height="3.59" fill="#f23645"/>
<rect x="344.25" y="289.28" width="0.7" height="8.97" fill="#f23645"/>
<rect x="345.53" y="295.79" width="1.75" height="3.22" fill="#f23645"/>
<rect x="346.05" y="293.40" width="0.7" height="8.21" fill="#f23645"/>
<rect x="347.33" y="298.75" width="1.75" height="2.53" fill="#f23645"/>
<rect x="347.85" y="295.96" width="0.7" height="8.49" fill="#f23645"/>
<rect x="349.13" y="301.52" width="1.75" height="3.27" fill="#f23645"/>
<rect x="349.65" y="300.24" width="0.7" height="5.66" fill="#f23645"/>
<rect x="350.93" y="304.86" width="1.75" height="0.90" fill="#f23645"/>
<rect x="351.45" y="302.85" width="0.7" height="5.65" fill="#f23645"/>
<rect x="352.73" y="302.11" width="1.75" height="3.42" fill="#089981"/>
<rect x="353.25" y="301.06" width="0.7" height="6.83" fill="#089981"/>
<rect x="354.53" y="297.43" width="1.75" height="4.76" fill="#089981"/>
<rect x="355.05" y="288.02" width="0.7" height="14.64" fill="#089981"/>
<rect x="356.33" y="289.45" width="1.75" height="7.97" fill="#089981"/>
<rect x="356.85" y="286.56" width="0.7" height="13.74" fill="#089981"/>
<rect x="358.13" y="288.54" width="1.75" height="0.90" fill="#089981"/>
<rect x="358.65" y="286.48" width="0.7" height="4.93" fill="#089981"/>
<rect x="359.93" y="288.35" width="1.75" height="0.90" fill="#f23645"/>
<rect x="360.45" y="284.21" width="0.7" height="6.58" fill="#f23645"/>
<rect x="361.73" y="287.73" width="1.75" height="0.90" fill="#089981"/>
<rect x="362.25" y="284.58" width="0.7" height="5.30" fill="#089981"/>
<rect x="363.53" y="284.76" width="1.75" height="2.89" fill="#089981"/>
<rect x="364.05" y="281.68" width="0.7" height="6.58" fill="#089981"/>
<rect x="365.33" y="282.45" width="1.75" height="2.46" fill="#089981"/>
<rect x="365.85" y="281.41" width="0.7" height="4.07" fill="#089981"/>
<rect x="367.13" y="282.41" width="1.75" height="0.90" fill="#089981"/>
<rect x="367.65" y="281.16" width="0.7" height="6.59" fill="#089981"/>
<rect x="368.93" y="282.70" width="1.75" height="5.80" fill="#f23645"/>
<rect x="369.45" y="281.61" width="0.7" height="10.01" fill="#f23645"/>
<rect x="370.73" y="288.50" width="1.75" height="0.90" fill="#f23645"/>
<rect x="371.25" y="286.25" width="0.7" height="6.31" fill="#f23645"/>
<rect x="372.53" y="287.09" width="1.75" height="2.00" fill="#089981"/>
<rect x="373.05" y="282.94" width="0.7" height="9.07" fill="#089981"/>
<rect x="374.33" y="282.96" width="1.75" height="4.34" fill="#089981"/>
<rect x="374.85" y="278.85" width="0.7" height="9.16" fill="#089981"/>
<rect x="376.13" y="280.89" width="1.75" height="1.95" fill="#089981"/>
<rect x="376.65" y="276.33" width="0.7" height="7.88" fill="#089981"/>
<rect x="377.93" y="277.16" width="1.75" height="3.54" fill="#089981"/>
<rect x="378.45" y="273.96" width="0.7" height="7.79" fill="#089981"/>
<rect x="379.73" y="274.24" width="1.75" height="3.15" fill="#089981"/>
<rect x="380.25" y="272.34" width="0.7" height="6.30" fill="#089981"/>
<rect x="381.53" y="274.54" width="1.75" height="0.90" fill="#f23645"/>
<rect x="382.05" y="272.82" width="0.7" height="3.88" fill="#f23645"/>
<rect x="383.33" y="274.99" width="1.75" height="0.90" fill="#f23645"/>
<rect x="383.85" y="271.23" width="0.7" height="4.69" fill="#f23645"/>
<rect x="385.13" y="274.06" width="1.75" height="1.39" fill="#089981"/>
<rect x="385.65" y="271.34" width="0.7" height="6.88" fill="#089981"/>
<rect x="386.93" y="271.94" width="1.75" height="1.99" fill="#089981"/>
<rect x="387.45" y="271.23" width="0.7" height="5.01" fill="#089981"/>
<rect x="388.73" y="271.99" width="1.75" height="7.35" fill="#f23645"/>
<rect x="389.25" y="269.17" width="0.7" height="11.54" fill="#f23645"/>
<rect x="390.53" y="279.31" width="1.75" height="2.06" fill="#f23645"/>
<rect x="391.05" y="277.94" width="0.7" height="5.86" fill="#f23645"/>
<rect x="392.33" y="280.05" width="1.75" height="1.09" fill="#089981"/>
<rect x="392.85" y="275.75" width="0.7" height="7.40" fill="#089981"/>
<rect x="394.13" y="279.97" width="1.75" height="0.90" fill="#f23645"/>
<rect x="394.65" y="277.66" width="0.7" height="6.07" fill="#f23645"/>
<rect x="395.93" y="280.86" width="1.75" height="0.90" fill="#f23645"/>
<rect x="396.45" y="275.31" width="0.7" height="8.14" fill="#f23645"/>
<rect x="397.73" y="272.71" width="1.75" height="8.50" fill="#089981"/>
<rect x="398.25" y="270.55" width="0.7" height="11.55" fill="#089981"/>
<rect x="399.53" y="271.30" width="1.75" height="1.23" fill="#089981"/>
<rect x="400.05" y="268.82" width="0.7" height="6.09" fill="#089981"/>
<rect x="401.33" y="269.28" width="1.75" height="1.78" fill="#089981"/>
<rect x="401.85" y="267.85" width="0.7" height="5.27" fill="#089981"/>
<rect x="403.13" y="269.03" width="1.75" height="0.92" fill="#f23645"/>
<rect x="403.65" y="267.97" width="0.7" height="4.32" fill="#f23645"/>
<rect x="404.93" y="266.71" width="1.75" height="3.11" fill="#089981"/>
<rect x="405.45" y="264.00" width="0.7" height="8.70" fill="#089981"/>
<rect x="406.73" y="261.47" width="1.75" height="5.28" fill="#089981"/>
<rect x="407.25" y="257.37" width="0.7" height="10.86" fill="#089981"/>
<rect x="408.53" y="261.23" width="1.75" height="0.90" fill="#089981"/>
<rect x="409.05" y="257.49" width="0.7" height="5.19" fill="#089981"/>
<rect x="410.33" y="261.05" width="1.75" height="0.90" fill="#f23645"/>
<rect x="410.85" y="259.78" width="0.7" height="4.79" fill="#f23645"/>
<rect x="412.13" y="259.58" width="1.75" height="2.44" fill="#089981"/>
<rect x="412.65" y="258.04" width="0.7" height="6.67" fill="#089981"/>
<rect x="413.93" y="259.38" width="1.75" height="3.27" fill="#f23645"/>
<rect x="414.45" y="258.94" width="0.7" height="6.69" fill="#f23645"/>
<rect x="415.73" y="262.89" width="1.75" height="2.26" fill="#f23645"/>
<rect x="416.25" y="262.26" width="0.7" height="6.77" fill="#f23645"/>
<rect x="417.53" y="265.15" width="1.75" height="6.59" fill="#f23645"/>
<rect x="418.05" y="264.37" width="0.7" height="13.47" fill="#f23645"/>
<rect x="419.33" y="272.00" width="1.75" height="8.74" fill="#f23645"/>
<rect x="419.85" y="271.32" width="0.7" height="11.64" fill="#f23645"/>
<rect x="421.13" y="281.02" width="1.75" height="1.85" fill="#f23645"/>
<rect x="421.65" y="279.58" width="0.7" height="4.02" fill="#f23645"/>
<rect x="422.93" y="279.50" width="1.75" height="3.66" fill="#089981"/>
<rect x="423.45" y="274.28" width="0.7" height="9.41" fill="#089981"/>
<rect x="424.73" y="276.11" width="1.75" height="3.31" fill="#089981"/>
<rect x="425.25" y="270.81" width="0.7" height="10.63" fill="#089981"/>
<rect x="426.53" y="275.81" width="1.75" height="0.90" fill="#089981"/>
<rect x="427.05" y="270.86" width="0.7" height="6.77" fill="#089981"/>
<rect x="428.33" y="276.01" width="1.75" height="1.38" fill="#f23645"/>
<rect x="428.85" y="273.46" width="0.7" height="5.12" fill="#f23645"/>
<rect x="430.13" y="276.80" width="1.75" height="0.90" fill="#089981"/>
<rect x="430.65" y="274.21" width="0.7" height="4.88" fill="#089981"/>
<rect x="431.93" y="273.39" width="1.75" height="3.26" fill="#089981"/>
<rect x="432.45" y="271.10" width="0.7" height="8.27" fill="#089981"/>
<rect x="433.73" y="271.90" width="1.75" height="1.53" fill="#089981"/>
<rect x="434.25" y="268.87" width="0.7" height="5.61" fill="#089981"/>
<rect x="435.53" y="270.88" width="1.75" height="0.90" fill="#089981"/>
<rect x="436.05" y="267.74" width="0.7" height="5.76" fill="#089981"/>
<rect x="437.33" y="270.76" width="1.75" height="0.90" fill="#f23645"/>
<rect x="437.85" y="268.59" width="0.7" height="4.53" fill="#f23645"/>
<rect x="439.13" y="270.87" width="1.75" height="0.90" fill="#f23645"/>
<rect x="439.65" y="268.14" width="0.7" height="5.30" fill="#f23645"/>
<rect x="440.93" y="266.37" width="1.75" height="4.96" fill="#089981"/>
<rect x="441.45" y="264.70" width="0.7" height="7.64" fill="#089981"/>
<rect x="442.73" y="266.23" width="1.75" height="0.90" fill="#089981"/>
<rect x="443.25" y="262.07" width="0.7" height="5.38" fill="#089981"/>
<rect x="444.53" y="260.74" width="1.75" height="5.26" fill="#089981"/>
<rect x="445.05" y="258.99" width="0.7" height="8.53" fill="#089981"/>
<rect x="446.33" y="257.80" width="1.75" height="2.91" fill="#089981"/>
<rect x="446.85" y="256.08" width="0.7" height="5.14" fill="#089981"/>
<rect x="448.13" y="257.55" width="1.75" height="0.90" fill="#f23645"/>
<rect x="448.65" y="255.06" width="0.7" height="5.87" fill="#f23645"/>
<rect x="449.93" y="257.59" width="1.75" height="0.90" fill="#089981"/>
<rect x="450.45" y="255.59" width="0.7" height="3.90" fill="#089981"/>
<rect x="451.73" y="257.37" width="1.75" height="2.20" fill="#f23645"/>
<rect x="452.25" y="254.74" width="0.7" height="7.82" fill="#f23645"/>
<rect x="453.53" y="259.44" width="1.75" height="0.90" fill="#089981"/>
<rect x="454.05" y="257.51" width="0.7" height="7.94" fill="#089981"/>
<rect x="455.33" y="259.72" width="1.75" height="5.11" fill="#f23645"/>
<rect x="455.85" y="256.93" width="0.7" height="9.32" fill="#f23645"/>
<rect x="457.13" y="265.09" width="1.75" height="1.84" fill="#f23645"/>
<rect x="457.65" y="264.52" width="0.7" height="4.60" fill="#f23645"/>
<rect x="458.93" y="266.72" width="1.75" height="3.70" fill="#f23645"/>
<rect x="459.45" y="263.99" width="0.7" height="8.03" fill="#f23645"/>
<rect x="460.73" y="270.21" width="1.75" height="2.60" fill="#f23645"/>
<rect x="461.25" y="268.50" width="0.7" height="7.10" fill="#f23645"/>
<rect x="462.53" y="271.17" width="1.75" height="1.50" fill="#089981"/>
<rect x="463.05" y="258.00" width="0.7" height="15.90" fill="#089981"/>
<rect x="464.33" y="269.46" width="1.75" height="1.51" fill="#089981"/>
<rect x="464.85" y="268.64" width="0.7" height="5.75" fill="#089981"/>
<rect x="466.13" y="269.66" width="1.75" height="0.90" fill="#089981"/>
<rect x="466.65" y="267.06" width="0.7" height="5.65" fill="#089981"/>
<rect x="467.93" y="266.68" width="1.75" height="3.00" fill="#089981"/>
<rect x="468.45" y="264.62" width="0.7" height="6.39" fill="#089981"/>
<rect x="469.73" y="266.71" width="1.75" height="3.67" fill="#f23645"/>
<rect x="470.25" y="264.80" width="0.7" height="8.27" fill="#f23645"/>
<rect x="471.53" y="267.75" width="1.75" height="2.92" fill="#089981"/>
<rect x="472.05" y="264.50" width="0.7" height="7.61" fill="#089981"/>
<rect x="473.33" y="265.42" width="1.75" height="2.20" fill="#089981"/>
<rect x="473.85" y="260.87" width="0.7" height="8.64" fill="#089981"/>
<rect x="475.13" y="262.79" width="1.75" height="2.79" fill="#089981"/>
<rect x="475.65" y="252.63" width="0.7" height="13.81" fill="#089981"/>
<rect x="476.93" y="253.17" width="1.75" height="9.35" fill="#089981"/>
<rect x="477.45" y="242.70" width="0.7" height="20.88" fill="#089981"/>
<rect x="478.73" y="251.37" width="1.75" height="2.09" fill="#089981"/>
<rect x="479.25" y="247.72" width="0.7" height="7.87" fill="#089981"/>
<rect x="480.53" y="247.77" width="1.75" height="3.31" fill="#089981"/>
<rect x="481.05" y="246.69" width="0.7" height="5.17" fill="#089981"/>
<rect x="482.33" y="246.37" width="1.75" height="1.36" fill="#089981"/>
<rect x="482.85" y="240.95" width="0.7" height="9.51" fill="#089981"/>
<rect x="484.13" y="237.12" width="1.75" height="9.08" fill="#089981"/>
<rect x="484.65" y="235.02" width="0.7" height="11.65" fill="#089981"/>
<rect x="485.93" y="234.34" width="1.75" height="2.70" fill="#089981"/>
<rect x="486.45" y="233.15" width="0.7" height="5.29" fill="#089981"/>
<rect x="487.73" y="230.12" width="1.75" height="4.27" fill="#089981"/>
<rect x="488.25" y="225.59" width="0.7" height="9.73" fill="#089981"/>
<rect x="489.53" y="225.80" width="1.75" height="4.30" fill="#089981"/>
<rect x="490.05" y="224.45" width="0.7" height="8.49" fill="#089981"/>
<rect x="491.33" y="225.59" width="1.75" height="0.90" fill="#f23645"/>
<rect x="491.85" y="224.94" width="0.7" height="3.82" fill="#f23645"/>
<rect x="493.13" y="225.98" width="1.75" height="1.29" fill="#f23645"/>
<rect x="493.65" y="223.93" width="0.7" height="4.43" fill="#f23645"/>
<rect x="494.93" y="222.62" width="1.75" height="4.73" fill="#089981"/>
<rect x="495.45" y="220.76" width="0.7" height="7.91" fill="#089981"/>
<rect x="496.73" y="222.05" width="1.75" height="0.90" fill="#089981"/>
<rect x="497.25" y="217.96" width="0.7" height="7.34" fill="#089981"/>
<rect x="498.53" y="221.04" width="1.75" height="1.26" fill="#089981"/>
<rect x="499.05" y="220.32" width="0.7" height="3.76" fill="#089981"/>
<rect x="500.33" y="219.03" width="1.75" height="1.85" fill="#089981"/>
<rect x="500.85" y="217.40" width="0.7" height="5.90" fill="#089981"/>
<rect x="502.13" y="216.00" width="1.75" height="3.06" fill="#089981"/>
<rect x="502.65" y="213.16" width="0.7" height="6.68" fill="#089981"/>
<rect x="503.93" y="215.82" width="1.75" height="0.90" fill="#089981"/>
<rect x="504.45" y="214.10" width="0.7" height="5.14" fill="#089981"/>
<rect x="505.73" y="215.62" width="1.75" height="0.90" fill="#f23645"/>
<rect x="506.25" y="212.48" width="0.7" height="5.09" fill="#f23645"/>
<rect x="507.53" y="210.76" width="1.75" height="5.63" fill="#089981"/>
<rect x="508.05" y="208.30" width="0.7" height="10.35" fill="#089981"/>
<rect x="509.33" y="207.68" width="1.75" height="3.29" fill="#089981"/>
<rect x="509.85" y="205.35" width="0.7" height="7.23" fill="#089981"/>
<rect x="511.13" y="207.66" width="1.75" height="2.22" fill="#f23645"/>
<rect x="511.65" y="206.67" width="0.7" height="3.88" fill="#f23645"/>
<rect x="512.93" y="207.77" width="1.75" height="1.83" fill="#089981"/>
<rect x="513.45" y="206.50" width="0.7" height="5.45" fill="#089981"/>
<rect x="514.73" y="207.45" width="1.75" height="0.90" fill="#089981"/>
<rect x="515.25" y="203.10" width="0.7" height="6.29" fill="#089981"/>
<rect x="516.53" y="204.03" width="1.75" height="3.38" fill="#089981"/>
<rect x="517.05" y="199.90" width="0.7" height="9.28" fill="#089981"/>
<rect x="518.33" y="200.56" width="1.75" height="3.55" fill="#089981"/>
<rect x="518.85" y="197.65" width="0.7" height="7.45" fill="#089981"/>
<rect x="520.13" y="200.27" width="1.75" height="4.68" fill="#f23645"/>
<rect x="520.65" y="199.20" width="0.7" height="7.22" fill="#f23645"/>
<rect x="521.93" y="198.82" width="1.75" height="6.41" fill="#089981"/>
<rect x="522.45" y="195.12" width="0.7" height="11.35" fill="#089981"/>
<rect x="523.73" y="198.11" width="1.75" height="0.90" fill="#089981"/>
<rect x="524.25" y="195.68" width="0.7" height="5.80" fill="#089981"/>
<rect x="525.53" y="198.22" width="1.75" height="1.80" fill="#f23645"/>
<rect x="526.05" y="195.73" width="0.7" height="8.18" fill="#f23645"/>
<rect x="527.33" y="200.22" width="1.75" height="2.01" fill="#f23645"/>
<rect x="527.85" y="198.01" width="0.7" height="8.32" fill="#f23645"/>
<rect x="529.13" y="202.37" width="1.75" height="1.43" fill="#f23645"/>
<rect x="529.65" y="200.49" width="0.7" height="4.71" fill="#f23645"/>
<rect x="530.93" y="202.45" width="1.75" height="1.42" fill="#089981"/>
<rect x="531.45" y="200.88" width="0.7" height="5.88" fill="#089981"/>
<rect x="532.73" y="198.46" width="1.75" height="3.70" fill="#089981"/>
<rect x="533.25" y="196.73" width="0.7" height="8.25" fill="#089981"/>
<rect x="534.53" y="194.72" width="1.75" height="3.52" fill="#089981"/>
<rect x="535.05" y="192.56" width="0.7" height="6.20" fill="#089981"/>
<rect x="536.33" y="193.32" width="1.75" height="1.49" fill="#089981"/>
<rect x="536.85" y="190.09" width="0.7" height="7.03" fill="#089981"/>
<rect x="538.13" y="192.12" width="1.75" height="1.25" fill="#089981"/>
<rect x="538.65" y="190.77" width="0.7" height="5.45" fill="#089981"/>
<rect x="539.93" y="192.35" width="1.75" height="1.03" fill="#f23645"/>
<rect x="540.45" y="191.73" width="0.7" height="7.12" fill="#f23645"/>
<rect x="541.73" y="193.65" width="1.75" height="8.06" fill="#f23645"/>
<rect x="542.25" y="192.97" width="0.7" height="11.91" fill="#f23645"/>
<rect x="543.53" y="201.44" width="1.75" height="4.83" fill="#f23645"/>
<rect x="544.05" y="198.83" width="0.7" height="15.37" fill="#f23645"/>
<rect x="545.33" y="204.51" width="1.75" height="1.95" fill="#089981"/>
<rect x="545.85" y="199.86" width="0.7" height="7.75" fill="#089981"/>
<rect x="547.13" y="198.82" width="1.75" height="5.45" fill="#089981"/>
<rect x="547.65" y="195.93" width="0.7" height="9.27" fill="#089981"/>
<rect x="548.93" y="195.85" width="1.75" height="2.93" fill="#089981"/>
<rect x="549.45" y="194.08" width="0.7" height="5.76" fill="#089981"/>
<rect x="550.73" y="192.35" width="1.75" height="3.63" fill="#089981"/>
<rect x="551.25" y="190.50" width="0.7" height="6.71" fill="#089981"/>
<rect x="552.53" y="192.22" width="1.75" height="0.90" fill="#089981"/>
<rect x="553.05" y="187.55" width="0.7" height="6.80" fill="#089981"/>
<rect x="554.33" y="188.09" width="1.75" height="4.08" fill="#089981"/>
<rect x="554.85" y="186.56" width="0.7" height="8.02" fill="#089981"/>
<rect x="556.13" y="187.89" width="1.75" height="0.90" fill="#089981"/>
<rect x="556.65" y="186.09" width="0.7" height="3.87" fill="#089981"/>
<rect x="557.93" y="187.64" width="1.75" height="3.54" fill="#f23645"/>
<rect x="558.45" y="185.11" width="0.7" height="6.92" fill="#f23645"/>
<rect x="559.73" y="188.27" width="1.75" height="2.74" fill="#089981"/>
<rect x="560.25" y="185.89" width="0.7" height="8.06" fill="#089981"/>
<rect x="561.53" y="188.27" width="1.75" height="1.00" fill="#f23645"/>
<rect x="562.05" y="186.59" width="0.7" height="7.92" fill="#f23645"/>
<rect x="563.33" y="189.26" width="1.75" height="2.95" fill="#f23645"/>
<rect x="563.85" y="187.96" width="0.7" height="9.01" fill="#f23645"/>
<rect x="565.13" y="192.48" width="1.75" height="1.56" fill="#f23645"/>
<rect x="565.65" y="191.34" width="0.7" height="4.82" fill="#f23645"/>
<rect x="566.93" y="193.07" width="1.75" height="0.97" fill="#089981"/>
<rect x="567.45" y="186.17" width="0.7" height="9.92" fill="#089981"/>
<rect x="568.73" y="180.22" width="1.75" height="13.02" fill="#089981"/>
<rect x="569.25" y="176.94" width="0.7" height="18.75" fill="#089981"/>
<rect x="570.53" y="177.15" width="1.75" height="2.99" fill="#089981"/>
<rect x="571.05" y="173.79" width="0.7" height="7.77" fill="#089981"/>
<rect x="572.33" y="175.24" width="1.75" height="1.66" fill="#089981"/>
<rect x="572.85" y="170.59" width="0.7" height="6.77" fill="#089981"/>
<rect x="574.13" y="172.36" width="1.75" height="2.74" fill="#089981"/>
<rect x="574.65" y="169.62" width="0.7" height="7.18" fill="#089981"/>
<rect x="575.93" y="172.59" width="1.75" height="2.74" fill="#f23645"/>
<rect x="576.45" y="171.58" width="0.7" height="8.14" fill="#f23645"/>
<rect x="577.73" y="175.48" width="1.75" height="3.82" fill="#f23645"/>
<rect x="578.25" y="173.12" width="0.7" height="8.26" fill="#f23645"/>
<rect x="579.53" y="178.52" width="1.75" height="0.90" fill="#089981"/>
<rect x="580.05" y="176.40" width="0.7" height="5.40" fill="#089981"/>
<rect x="581.33" y="175.92" width="1.75" height="2.74" fill="#089981"/>
<rect x="581.85" y="160.16" width="0.7" height="20.04" fill="#089981"/>
<rect x="583.13" y="155.97" width="1.75" height="19.99" fill="#089981"/>
<rect x="583.65" y="148.43" width="0.7" height="29.14" fill="#089981"/>
<rect x="584.93" y="142.93" width="1.75" height="12.89" fill="#089981"/>
<rect x="585.45" y="132.88" width="0.7" height="24.12" fill="#089981"/>
<rect x="586.73" y="129.15" width="1.75" height="13.99" fill="#089981"/>
<rect x="587.25" y="127.70" width="0.7" height="16.25" fill="#089981"/>
<rect x="588.53" y="125.31" width="1.75" height="3.73" fill="#089981"/>
<rect x="589.05" y="121.64" width="0.7" height="8.22" fill="#089981"/>
<rect x="590.33" y="123.21" width="1.75" height="1.91" fill="#089981"/>
<rect x="590.85" y="120.28" width="0.7" height="7.14" fill="#089981"/>
<rect x="592.13" y="123.49" width="1.75" height="0.90" fill="#f23645"/>
<rect x="592.65" y="122.83" width="0.7" height="5.67" fill="#f23645"/>
<rect x="593.93" y="124.26" width="1.75" height="6.25" fill="#f23645"/>
<rect x="594.45" y="121.96" width="0.7" height="10.09" fill="#f23645"/>
<rect x="595.73" y="130.33" width="1.75" height="0.90" fill="#089981"/>
<rect x="596.25" y="129.65" width="0.7" height="3.14" fill="#089981"/>
<rect x="597.53" y="130.05" width="1.75" height="1.73" fill="#f23645"/>
<rect x="598.05" y="128.61" width="0.7" height="6.05" fill="#f23645"/>
<rect x="599.33" y="131.78" width="1.75" height="0.90" fill="#f23645"/>
<rect x="599.85" y="128.98" width="0.7" height="13.42" fill="#f23645"/>
<rect x="601.12" y="129.26" width="1.75" height="2.98" fill="#089981"/>
<rect x="601.65" y="127.81" width="0.7" height="6.76" fill="#089981"/>
<rect x="602.92" y="129.22" width="1.75" height="1.70" fill="#f23645"/>
<rect x="603.45" y="127.33" width="0.7" height="5.94" fill="#f23645"/>
<rect x="604.72" y="109.25" width="1.75" height="21.51" fill="#089981"/>
<rect x="605.25" y="106.32" width="0.7" height="27.13" fill="#089981"/>
<rect x="606.52" y="109.37" width="1.75" height="0.90" fill="#f23645"/>
<rect x="607.05" y="103.00" width="0.7" height="11.35" fill="#f23645"/>
<rect x="608.32" y="110.21" width="1.75" height="3.55" fill="#f23645"/>
<rect x="608.85" y="108.99" width="0.7" height="7.04" fill="#f23645"/>
<rect x="610.12" y="109.49" width="1.75" height="4.22" fill="#089981"/>
<rect x="610.65" y="106.12" width="0.7" height="9.84" fill="#089981"/>
<rect x="611.92" y="107.08" width="1.75" height="2.26" fill="#089981"/>
<rect x="612.45" y="101.60" width="0.7" height="9.32" fill="#089981"/>
<rect x="613.72" y="107.03" width="1.75" height="0.90" fill="#f23645"/>
<rect x="614.25" y="103.31" width="0.7" height="7.35" fill="#f23645"/>
<rect x="615.52" y="107.13" width="1.75" height="1.31" fill="#f23645"/>
<rect x="616.05" y="104.71" width="0.7" height="9.59" fill="#f23645"/>
<rect x="617.32" y="108.72" width="1.75" height="14.64" fill="#f23645"/>
<rect x="617.85" y="108.22" width="0.7" height="17.79" fill="#f23645"/>
<rect x="619.12" y="117.48" width="1.75" height="6.05" fill="#089981"/>
<rect x="619.65" y="111.56" width="0.7" height="13.72" fill="#089981"/>
<rect x="620.92" y="110.35" width="1.75" height="7.18" fill="#089981"/>
<rect x="621.45" y="108.55" width="0.7" height="11.25" fill="#089981"/>
<rect x="622.72" y="110.44" width="1.75" height="12.55" fill="#f23645"/>
<rect x="623.25" y="107.88" width="0.7" height="24.26" fill="#f23645"/>
<rect x="624.52" y="123.25" width="1.75" height="13.62" fill="#f23645"/>
<rect x="625.05" y="122.30" width="0.7" height="23.15" fill="#f23645"/>
<rect x="626.32" y="137.03" width="1.75" height="6.89" fill="#f23645"/>
<rect x="626.85" y="136.31" width="0.7" height="12.65" fill="#f23645"/>
<rect x="628.12" y="137.85" width="1.75" height="5.81" fill="#089981"/>
<rect x="628.65" y="135.44" width="0.7" height="9.65" fill="#089981"/>
<rect x="629.92" y="133.23" width="1.75" height="4.56" fill="#089981"/>
<rect x="630.45" y="131.74" width="0.7" height="18.88" fill="#089981"/>
<rect x="631.72" y="133.09" width="1.75" height="28.27" fill="#f23645"/>
<rect x="632.25" y="132.11" width="0.7" height="32.32" fill="#f23645"/>
<rect x="633.52" y="158.41" width="1.75" height="2.96" fill="#089981"/>
<rect x="634.05" y="155.23" width="0.7" height="8.63" fill="#089981"/>
<rect x="635.32" y="156.88" width="1.75" height="1.36" fill="#089981"/>
<rect x="635.85" y="155.87" width="0.7" height="4.79" fill="#089981"/>
<rect x="637.12" y="156.96" width="1.75" height="0.90" fill="#f23645"/>
<rect x="637.65" y="153.44" width="0.7" height="5.85" fill="#f23645"/>
<rect x="638.92" y="151.99" width="1.75" height="5.53" fill="#089981"/>
<rect x="639.45" y="149.06" width="0.7" height="10.52" fill="#089981"/>
<rect x="640.72" y="148.69" width="1.75" height="3.49" fill="#089981"/>
<rect x="641.25" y="143.07" width="0.7" height="10.28" fill="#089981"/>
<rect x="642.52" y="141.85" width="1.75" height="6.61" fill="#089981"/>
<rect x="643.05" y="133.01" width="0.7" height="16.78" fill="#089981"/>
<rect x="644.32" y="130.44" width="1.75" height="11.28" fill="#089981"/>
<rect x="644.85" y="125.02" width="0.7" height="17.75" fill="#089981"/>
<rect x="646.12" y="130.25" width="1.75" height="0.90" fill="#f23645"/>
<rect x="646.65" y="127.69" width="0.7" height="8.54" fill="#f23645"/>
<rect x="647.92" y="130.77" width="1.75" height="4.63" fill="#f23645"/>
<rect x="648.45" y="129.59" width="0.7" height="9.06" fill="#f23645"/>
<rect x="649.72" y="135.48" width="1.75" height="2.19" fill="#f23645"/>
<rect x="650.25" y="133.37" width="0.7" height="7.36" fill="#f23645"/>
<rect x="651.52" y="137.88" width="1.75" height="9.05" fill="#f23645"/>
<rect x="652.05" y="137.34" width="0.7" height="17.66" fill="#f23645"/>
<rect x="653.32" y="146.81" width="1.75" height="0.90" fill="#089981"/>
<rect x="653.85" y="142.33" width="0.7" height="8.15" fill="#089981"/>
<rect x="655.12" y="144.71" width="1.75" height="1.81" fill="#089981"/>
<rect x="655.65" y="142.67" width="0.7" height="6.73" fill="#089981"/>
<rect x="656.92" y="144.56" width="1.75" height="2.62" fill="#f23645"/>
<rect x="657.45" y="143.90" width="0.7" height="4.78" fill="#f23645"/>
<rect x="658.72" y="147.35" width="1.75" height="1.11" fill="#f23645"/>
<rect x="659.25" y="146.05" width="0.7" height="6.82" fill="#f23645"/>
<rect x="660.52" y="148.63" width="1.75" height="19.67" fill="#f23645"/>
<rect x="661.05" y="147.79" width="0.7" height="23.22" fill="#f23645"/>
<rect x="662.32" y="168.47" width="1.75" height="1.61" fill="#f23645"/>
<rect x="662.85" y="165.82" width="0.7" height="15.01" fill="#f23645"/>
<rect x="664.12" y="170.28" width="1.75" height="32.15" fill="#f23645"/>
<rect x="664.65" y="169.37" width="0.7" height="50.03" fill="#f23645"/>
<rect x="665.92" y="191.55" width="1.75" height="11.03" fill="#089981"/>
<rect x="666.45" y="186.35" width="0.7" height="18.92" fill="#089981"/>
<rect x="667.72" y="186.50" width="1.75" height="4.91" fill="#089981"/>
<rect x="668.25" y="183.99" width="0.7" height="8.18" fill="#089981"/>
<rect x="669.52" y="185.38" width="1.75" height="0.90" fill="#089981"/>
<rect x="670.05" y="183.09" width="0.7" height="3.99" fill="#089981"/>
<rect x="671.32" y="185.38" width="1.75" height="2.76" fill="#f23645"/>
<rect x="671.85" y="183.57" width="0.7" height="9.59" fill="#f23645"/>
<rect x="673.12" y="188.34" width="1.75" height="3.15" fill="#f23645"/>
<rect x="673.65" y="186.73" width="0.7" height="10.86" fill="#f23645"/>
<rect x="674.92" y="191.69" width="1.75" height="7.21" fill="#f23645"/>
<rect x="675.45" y="190.32" width="0.7" height="12.20" fill="#f23645"/>
<rect x="676.72" y="198.65" width="1.75" height="5.92" fill="#f23645"/>
<rect x="677.25" y="196.59" width="0.7" height="10.03" fill="#f23645"/>
<rect x="678.52" y="203.01" width="1.75" height="1.62" fill="#089981"/>
<rect x="679.05" y="199.99" width="0.7" height="8.13" fill="#089981"/>
<rect x="680.32" y="199.92" width="1.75" height="3.38" fill="#089981"/>
<rect x="680.85" y="198.19" width="0.7" height="6.77" fill="#089981"/>
<rect x="682.12" y="199.64" width="1.75" height="1.14" fill="#f23645"/>
<rect x="682.65" y="196.33" width="0.7" height="6.47" fill="#f23645"/>
<rect x="683.92" y="197.18" width="1.75" height="3.81" fill="#089981"/>
<rect x="684.45" y="195.55" width="0.7" height="7.08" fill="#089981"/>
<rect x="685.72" y="196.98" width="1.75" height="0.90" fill="#089981"/>
<rect x="686.25" y="195.95" width="0.7" height="2.93" fill="#089981"/>
<rect x="687.52" y="196.65" width="1.75" height="0.90" fill="#089981"/>
<rect x="688.05" y="194.10" width="0.7" height="6.61" fill="#089981"/>
<rect x="689.32" y="196.59" width="1.75" height="6.66" fill="#f23645"/>
<rect x="689.85" y="194.88" width="0.7" height="9.52" fill="#f23645"/>
<rect x="691.12" y="203.54" width="1.75" height="0.90" fill="#f23645"/>
<rect x="691.65" y="199.53" width="0.7" height="7.32" fill="#f23645"/>
<rect x="692.92" y="197.54" width="1.75" height="6.57" fill="#089981"/>
<rect x="693.45" y="194.46" width="0.7" height="11.58" fill="#089981"/>
<rect x="694.72" y="194.16" width="1.75" height="3.55" fill="#089981"/>
<rect x="695.25" y="192.60" width="0.7" height="7.40" fill="#089981"/>
<rect x="696.52" y="194.19" width="1.75" height="3.14" fill="#f23645"/>
<rect x="697.05" y="193.66" width="0.7" height="4.85" fill="#f23645"/>
<rect x="698.32" y="193.92" width="1.75" height="3.23" fill="#089981"/>
<rect x="698.85" y="191.12" width="0.7" height="8.01" fill="#089981"/>
<rect x="700.12" y="194.09" width="1.75" height="1.41" fill="#f23645"/>
<rect x="700.65" y="191.33" width="0.7" height="6.31" fill="#f23645"/>
<rect x="701.92" y="195.58" width="1.75" height="0.90" fill="#f23645"/>
<rect x="702.45" y="192.84" width="0.7" height="5.43" fill="#f23645"/>
<rect x="703.72" y="196.15" width="1.75" height="1.98" fill="#f23645"/>
<rect x="704.25" y="192.87" width="0.7" height="9.47" fill="#f23645"/>
<rect x="705.52" y="197.89" width="1.75" height="6.40" fill="#f23645"/>
<rect x="706.05" y="197.02" width="0.7" height="7.77" fill="#f23645"/>
<rect x="707.32" y="202.13" width="1.75" height="2.41" fill="#089981"/>
<rect x="707.85" y="198.80" width="0.7" height="7.10" fill="#089981"/>
<rect x="709.12" y="201.03" width="1.75" height="1.27" fill="#089981"/>
<rect x="709.65" y="197.24" width="0.7" height="6.13" fill="#089981"/>
<rect x="710.92" y="197.57" width="1.75" height="3.42" fill="#089981"/>
<rect x="711.45" y="196.27" width="0.7" height="6.23" fill="#089981"/>
<rect x="712.72" y="197.83" width="1.75" height="1.23" fill="#f23645"/>
<rect x="713.25" y="197.16" width="0.7" height="5.72" fill="#f23645"/>
<rect x="714.52" y="198.82" width="1.75" height="5.53" fill="#f23645"/>
<rect x="715.05" y="196.32" width="0.7" height="24.23" fill="#f23645"/>
<rect x="716.32" y="204.33" width="1.75" height="27.95" fill="#f23645"/>
<rect x="716.85" y="203.89" width="0.7" height="30.02" fill="#f23645"/>
<rect x="718.12" y="222.22" width="1.75" height="10.32" fill="#089981"/>
<rect x="718.65" y="216.53" width="0.7" height="17.65" fill="#089981"/>
<rect x="719.92" y="219.43" width="1.75" height="2.55" fill="#089981"/>
<rect x="720.45" y="216.67" width="0.7" height="8.32" fill="#089981"/>
<rect x="721.72" y="219.14" width="1.75" height="4.02" fill="#f23645"/>
<rect x="722.25" y="218.73" width="0.7" height="8.45" fill="#f23645"/>
<rect x="723.52" y="221.29" width="1.75" height="2.15" fill="#089981"/>
<rect x="724.05" y="220.66" width="0.7" height="6.38" fill="#089981"/>
<rect x="725.32" y="221.00" width="1.75" height="3.97" fill="#f23645"/>
<rect x="725.85" y="218.73" width="0.7" height="10.01" fill="#f23645"/>
<rect x="727.12" y="224.78" width="1.75" height="4.61" fill="#f23645"/>
<rect x="727.65" y="224.25" width="0.7" height="8.45" fill="#f23645"/>
<rect x="728.92" y="229.61" width="1.75" height="3.16" fill="#f23645"/>
<rect x="729.45" y="227.31" width="0.7" height="7.06" fill="#f23645"/>
<rect x="730.72" y="232.24" width="1.75" height="0.90" fill="#089981"/>
<rect x="731.25" y="229.65" width="0.7" height="6.73" fill="#089981"/>
<rect x="732.52" y="232.52" width="1.75" height="0.90" fill="#f23645"/>
<rect x="733.05" y="229.61" width="0.7" height="6.83" fill="#f23645"/>
</g>
<!-- blue lines -->
<g stroke="#2962ff" stroke-width="1.55" fill="none" stroke-linecap="round">
<line x1="120.2" y1="261.4" x2="601.3" y2="178.2"/>
<line x1="120.2" y1="347.8" x2="601.3" y2="264.7"/>
<line x1="120.2" y1="304.6" x2="601.3" y2="221.5" stroke-dasharray="3 3" stroke-width="1.1" stroke-opacity="0.75"/>
<line x1="470.4" y1="214.4" x2="673" y2="46"/>
<line x1="470.4" y1="278.4" x2="673" y2="109.6"/>
<line x1="470.4" y1="246.4" x2="673" y2="77.8" stroke-dasharray="3 3" stroke-width="1.1" stroke-opacity="0.75"/>
<line x1="2" y1="218.3" x2="246.2" y2="385.4"/>
<line x1="612.5" y1="97" x2="784" y2="249.4"/>
<line x1="631.9" y1="163.2" x2="705" y2="287.7"/>
<line x1="743.4" y1="231.8" x2="753.4" y2="212.8"/>
<line x1="753.4" y1="212.8" x2="758.3" y2="226"/>
<polyline points="754.3,219.5 758.3,226 762.5,216.8"/>
<line x1="747.4" y1="203.4" x2="766.4" y2="173"/>
<polyline points="756.7,175.8 766.4,173 768.8,182.5"/>
<line x1="737.1" y1="244" x2="755.2" y2="276.5"/>
<polyline points="746.3,273.6 755.2,276.5 757.8,267.5"/>
</g>
<!-- arrows -->
<g fill="#cc2936">
<polygon points="-0.6,230 2.1,230 2.1,223.1 9.4,223.1 9.4,230 11.9,230 5.6,237"/>
<polygon points="237.8,229.9 240.9,229.9 240.9,223.1 247.8,223.1 247.8,229.9 250.6,229.9 244.3,237.2"/>
</g>
<g fill="#0b9279">
<polygon points="126.1,350.9 132.3,358.1 129.4,358.1 129.4,364.5 122.6,364.5 122.6,358.1 119.8,358.1"/>
<polygon points="357.3,314.7 363.6,321.9 360.8,321.9 360.8,328.7 353.9,328.7 353.9,321.9 351.1,321.9"/>
</g>
<!-- circles -->
<circle cx="820" cy="188.5" r="6.2" fill="#d5e8d6" stroke="#2e7d32" stroke-width="1.3"/>
<circle cx="823.75" cy="232.9" r="9" fill="#fcd7db" stroke="#f23645" stroke-width="1.4"/>
<!-- current price dotted -->
<line x1="2" y1="237.1" x2="920" y2="237.1" stroke="#f23645" stroke-opacity="0.4" stroke-width="1.5" stroke-dasharray="1.1 1"/>
<!-- black mark -->
<line x1="2" y1="148" x2="8" y2="146.4" stroke="#131722" stroke-width="1.4"/>
<!-- labels -->
<text x="468.3" y="16.6" font-size="9.3" font-weight="bold" fill="#9c27b0" text-anchor="middle" textLength="50" lengthAdjust="spacingAndGlyphs">Resistance</text>
<text x="537.7" y="455.6" font-size="9.5" font-weight="bold" fill="#9c27b0" text-anchor="middle" textLength="36.7" lengthAdjust="spacingAndGlyphs">support</text>
<!-- event icons -->
<g>
<clipPath id="fc1"><circle cx="836.2" cy="450.9" r="4.7"/></clipPath>
<circle cx="836.2" cy="450.9" r="5.9" fill="#fff" stroke="#f23645" stroke-width="1.4"/>
<g clip-path="url(#fc1)">

<rect x="838.7" y="446.5" width="3" height="1" fill="#f23645" fill-opacity="0.55"/>
<rect x="838.7" y="450.0" width="3" height="1.8" fill="#f23645"/>
<rect x="831.2" y="454.0" width="10" height="1.6" fill="#f23645"/></g>
<clipPath id="fc2"><circle cx="831.7" cy="450.9" r="4.7"/></clipPath>
<circle cx="831.7" cy="450.9" r="5.9" fill="#fff" stroke="#f23645" stroke-width="1.4"/>
<g clip-path="url(#fc2)">
<rect x="826.7" y="445.7" width="7.5" height="6.3" fill="#2f8ae8"/>
<rect x="834.2" y="446.5" width="3" height="1" fill="#f23645" fill-opacity="0.55"/>
<rect x="834.2" y="450.0" width="3" height="1.8" fill="#f23645"/>
<rect x="826.7" y="454.0" width="10" height="1.6" fill="#f23645"/></g>
<clipPath id="fc3"><circle cx="800.8" cy="450.9" r="4.7"/></clipPath>
<circle cx="800.8" cy="450.9" r="5.9" fill="#fff" stroke="#f23645" stroke-width="1.4"/>
<g clip-path="url(#fc3)">
<rect x="795.8" y="445.7" width="7.5" height="6.3" fill="#2f8ae8"/>
<rect x="803.3" y="446.5" width="3" height="1" fill="#f23645" fill-opacity="0.55"/>
<rect x="803.3" y="450.0" width="3" height="1.8" fill="#f23645"/>
<rect x="795.8" y="454.0" width="10" height="1.6" fill="#f23645"/></g>
<clipPath id="fc4"><circle cx="788.5" cy="450.9" r="4.7"/></clipPath>
<circle cx="788.5" cy="450.9" r="5.9" fill="#fff" stroke="#f23645" stroke-width="1.4"/>
<g clip-path="url(#fc4)">
<rect x="783.5" y="445.7" width="7.5" height="6.3" fill="#2f8ae8"/>
<rect x="791.0" y="446.5" width="3" height="1" fill="#f23645" fill-opacity="0.55"/>
<rect x="791.0" y="450.0" width="3" height="1.8" fill="#f23645"/>
<rect x="783.5" y="454.0" width="10" height="1.6" fill="#f23645"/></g>
<circle cx="734" cy="451" r="6.3" fill="#fff" stroke="#9c27b0" stroke-width="1.2"/>
<path d="M735.6,447.8 L731.5,451.6 L734.9,451.3 L732,454.8 L736.4,450.5 L733.3,450.7 L736.4,448.4 Z" fill="#9c27b0" stroke="#9c27b0" stroke-width="0.7" stroke-linejoin="round"/>
<circle cx="738.4" cy="446.7" r="2.3" fill="#fff"/>
<circle cx="738.4" cy="446.7" r="1.6" fill="#f01010"/>
</g>
</g>
<!-- price axis labels -->
<g font-size="9.3" fill="#131722" stroke="#131722" stroke-width="0.08">
<text x="926" y="2.93" textLength="31" lengthAdjust="spacingAndGlyphs">58.00000</text>
<text x="926" y="30.90" textLength="31" lengthAdjust="spacingAndGlyphs">57.00000</text>
<text x="926" y="58.87" textLength="31" lengthAdjust="spacingAndGlyphs">56.00000</text>
<text x="926" y="86.84" textLength="31" lengthAdjust="spacingAndGlyphs">55.00000</text>
<text x="926" y="114.81" textLength="31" lengthAdjust="spacingAndGlyphs">54.00000</text>
<text x="926" y="142.78" textLength="31" lengthAdjust="spacingAndGlyphs">53.00000</text>
<text x="926" y="170.75" textLength="31" lengthAdjust="spacingAndGlyphs">52.00000</text>
<text x="926" y="198.72" textLength="31" lengthAdjust="spacingAndGlyphs">51.00000</text>
<text x="926" y="226.69" textLength="31" lengthAdjust="spacingAndGlyphs">50.00000</text>
<text x="926" y="254.66" textLength="31" lengthAdjust="spacingAndGlyphs">49.00000</text>
<text x="926" y="282.63" textLength="31" lengthAdjust="spacingAndGlyphs">48.00000</text>
<text x="926" y="310.60" textLength="31" lengthAdjust="spacingAndGlyphs">47.00000</text>
<text x="926" y="338.57" textLength="31" lengthAdjust="spacingAndGlyphs">46.00000</text>
<text x="926" y="366.54" textLength="31" lengthAdjust="spacingAndGlyphs">45.00000</text>
<text x="926" y="394.51" textLength="31" lengthAdjust="spacingAndGlyphs">44.00000</text>
<text x="926" y="422.48" textLength="31" lengthAdjust="spacingAndGlyphs">43.00000</text>
<text x="926" y="450.45" textLength="31" lengthAdjust="spacingAndGlyphs">42.00000</text>
</g>
<!-- special labels -->
<rect x="920.5" y="207.8" width="40" height="10.7" rx="1.5" fill="#000"/>
<text x="925.6" y="216.3" font-size="9.3" fill="#fff" textLength="31.3" lengthAdjust="spacingAndGlyphs">50.38953</text>
<rect x="921" y="231.9" width="39.3" height="19.1" rx="1.5" fill="#f23645"/>
<text x="925.6" y="240.6" font-size="9.3" fill="#fff" textLength="31.3" lengthAdjust="spacingAndGlyphs">49.54040</text>
<text x="925.6" y="249.2" font-size="9.3" fill="#fff" textLength="19" lengthAdjust="spacingAndGlyphs">00:41</text>
<rect x="887" y="231.8" width="32" height="10" rx="1.5" fill="#f23645"/>
<text x="903" y="240.2" font-size="9.3" fill="#fff" text-anchor="middle" textLength="26" lengthAdjust="spacingAndGlyphs">XAGUSD</text>
<!-- RSI legend -->
<text x="6.8" y="472.3" font-size="9.3" fill="#131722" textLength="48.9" lengthAdjust="spacingAndGlyphs">RSI (14, close)</text>
<text x="60.6" y="472.3" font-size="9.3" fill="#7e57c2" textLength="18.4" lengthAdjust="spacingAndGlyphs">34.40</text>
<text x="84.2" y="472.3" font-size="9.3" fill="#2962ff" textLength="18.5" lengthAdjust="spacingAndGlyphs">37.22</text>
</svg>
</body></html>
